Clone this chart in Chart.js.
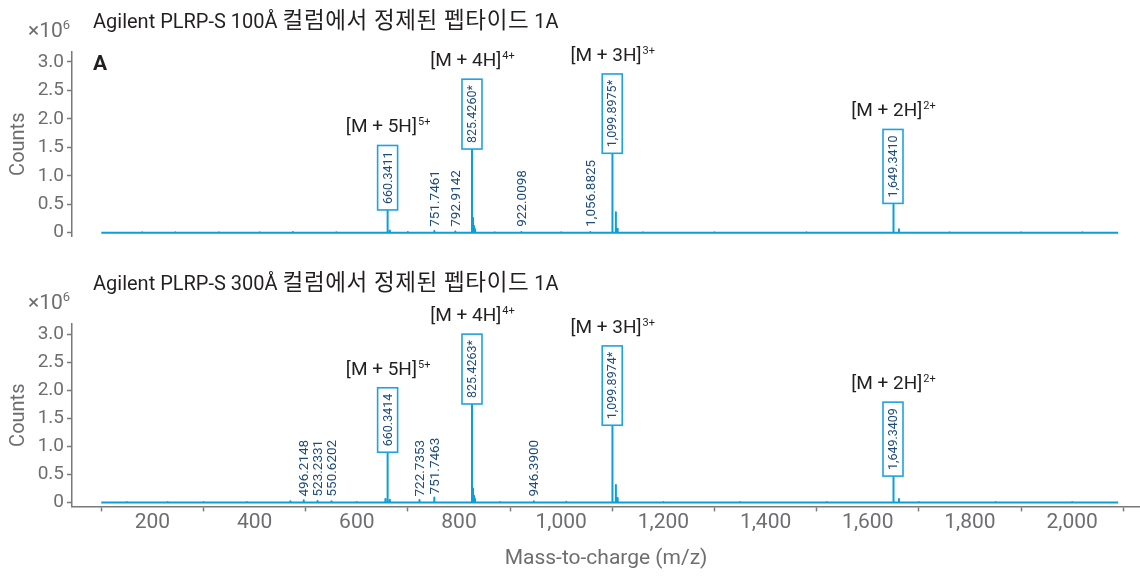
<!DOCTYPE html>
<html>
<head>
<meta charset="utf-8">
<script src="https://cdn.jsdelivr.net/npm/chart.js@4"></script>
<style>
  body { margin: 0; background: #fff; }
  #wrap { position: relative; width: 1140px; height: 576px; overflow: hidden; font-family: Roboto, "Noto Sans CJK KR", sans-serif; }
  #wrap canvas { position: absolute; left: 0; top: 0; }
  .title { position: absolute; left: 93px; font-size: 20px; line-height: 24px; color: #231f20; white-space: nowrap; }
  .title .ko { font-size: 22.5px; letter-spacing: 0.6px; }
  .exp { position: absolute; left: 28px; font-size: 21px; line-height: 22px; color: #6d6e71; white-space: nowrap; }
  .exp sup { font-size: 13px; vertical-align: 8px; line-height: 0; }
  .panel { position: absolute; left: 93px; top: 51px; font-size: 21px; font-weight: bold; line-height: 24px; color: #231f20; }
</style>
</head>
<body>
<div id="wrap">
  <div style="position:absolute;left:0;top:0;width:1140px;height:576px"><canvas id="topChart"></canvas></div>
  <div style="position:absolute;left:0;top:0;width:1140px;height:576px"><canvas id="bottomChart"></canvas></div>
  <div class="title" style="top:8px">Agilent PLRP-S 100Å <span class="ko">컬럼에서 정제된 펩타이드</span> 1A</div>
  <div class="exp" style="top:19px">×10<sup>6</sup></div>
  <div class="panel">A</div>
  <div class="title" style="top:270px">Agilent PLRP-S 300Å <span class="ko">컬럼에서 정제된 펩타이드</span> 1A</div>
  <div class="exp" style="top:291px">×10<sup>6</sup></div>
</div>
<script>
// m/z range of the recorded trace and of the axis
const traceStart = 100;
const traceEnd = 2090;
const xMin = 42.7;
const xMax = 2132.7;

// tick values
const xTickValues = [100, 200, 300, 400, 500, 600, 700, 800, 900, 1000, 1100,
  1200, 1300, 1400, 1500, 1600, 1700, 1800, 1900, 2000, 2100];
const yTickValues = [0, 0.5, 1.0, 1.5, 2.0, 2.5, 3.0];

// 100Å column peaks (counts in 10^6)
const topMz = [660.3411, 825.4260, 1099.8975, 1649.3410,
  751.7461, 792.9142, 922.0098, 1056.8825,
  664.7, 827.5, 829.5, 831.5, 1100.6, 1107.0, 1110.5, 1651.0, 1661.0];
const topCounts = [0.40, 1.47, 1.395, 0.515,
  0.03, 0.02, 0.012, 0.012,
  0.04, 0.26, 0.12, 0.06, 0.87, 0.36, 0.07, 0.08, 0.06];
// small baseline bumps
const topNoiseMz = [180, 245, 330, 410, 475, 560, 700, 870, 1000, 1160, 1300, 1480, 1760, 1900, 2020];
const topNoiseCounts = [0.01, 0.008, 0.01, 0.008, 0.012, 0.01, 0.012, 0.01, 0.01, 0.01, 0.008, 0.01, 0.01, 0.008, 0.01];

// 300Å column peaks
const bottomMz = [660.3414, 825.4263, 1099.8974, 1649.3409,
  496.2148, 523.2331, 550.6202, 722.7353, 751.7463, 946.3900,
  656.0, 664.7, 827.5, 829.5, 831.5, 1100.6, 1107.0, 1110.5, 1651.0, 1661.0];
const bottomCounts = [0.895, 1.755, 1.376, 0.47,
  0.04, 0.025, 0.02, 0.045, 0.09, 0.02,
  0.06, 0.05, 0.25, 0.12, 0.06, 0.87, 0.31, 0.08, 0.06, 0.06];
const bottomNoiseMz = [150, 230, 300, 385, 470, 600, 880, 1010, 1200, 1350, 1520, 1700, 1850, 2000];
const bottomNoiseCounts = [0.01, 0.008, 0.01, 0.01, 0.02, 0.01, 0.01, 0.012, 0.008, 0.008, 0.01, 0.01, 0.008, 0.01];

// labels
const topBoxed = [
  { mz: 660.3411, text: '660.3411', ion: '[M + 5H]', charge: '5+' },
  { mz: 825.4260, text: '825.4260*', ion: '[M + 4H]', charge: '4+' },
  { mz: 1099.8975, text: '1,099.8975*', ion: '[M + 3H]', charge: '3+' },
  { mz: 1649.3410, text: '1,649.3410', ion: '[M + 2H]', charge: '2+' }
];
const topSmall = [
  { mz: 751.7461, text: '751.7461' },
  { mz: 792.9142, text: '792.9142' },
  { mz: 922.0098, text: '922.0098' },
  { mz: 1056.8825, text: '1,056.8825' }
];
const bottomBoxed = [
  { mz: 660.3414, text: '660.3414', ion: '[M + 5H]', charge: '5+' },
  { mz: 825.4263, text: '825.4263*', ion: '[M + 4H]', charge: '4+' },
  { mz: 1099.8974, text: '1,099.8974*', ion: '[M + 3H]', charge: '3+' },
  { mz: 1649.3409, text: '1,649.3409', ion: '[M + 2H]', charge: '2+' }
];
const bottomSmall = [
  { mz: 496.2148, text: '496.2148' },
  { mz: 523.2331, text: '523.2331' },
  { mz: 550.6202, text: '550.6202' },
  { mz: 722.7353, text: '722.7353' },
  { mz: 751.7463, text: '751.7463' },
  { mz: 946.3900, text: '946.3900' }
];

const traceColor = '#0b9edb';
const boxColor = '#1ea3dc';
const labelColor = '#1d4c78';
const axisGrey = '#77797c';
const textGrey = '#6d6e71';
const FONT = 'Roboto, "Noto Sans CJK KR", sans-serif';

function stickData(mz, counts, noiseMz, noiseCounts) {
  const peaks = mz.map((m, i) => [m, counts[i]])
    .concat(noiseMz.map((m, i) => [m, noiseCounts[i]]))
    .sort((a, b) => a[0] - b[0]);
  const pts = [{ x: traceStart, y: 0 }];
  peaks.forEach(([m, c]) => {
    pts.push({ x: m, y: 0 }, { x: m, y: c }, { x: m, y: 0 });
  });
  pts.push({ x: traceEnd, y: 0 });
  return pts;
}

const peakLabels = {
  id: 'peakLabels',
  afterDatasetsDraw(chart) {
    const cfg = chart.options.plugins.peakLabels;
    const { ctx } = chart;
    const x = chart.scales.x, y = chart.scales.y;
    const zeroY = y.getPixelForValue(0);
    ctx.save();

    cfg.small.forEach(p => {
      const px = x.getPixelForValue(p.mz);
      const h = cfg.counts[cfg.mz.indexOf(p.mz)];
      const startY = Math.min(y.getPixelForValue(h) - 3, zeroY - 6);
      ctx.save();
      ctx.translate(px, startY);
      ctx.rotate(-Math.PI / 2);
      ctx.font = '13.5px ' + FONT;
      ctx.fillStyle = labelColor;
      ctx.textAlign = 'left';
      ctx.textBaseline = 'middle';
      ctx.fillText(p.text, 0, 1);
      ctx.restore();
    });

    cfg.boxed.forEach(p => {
      const px = x.getPixelForValue(p.mz);
      const h = cfg.counts[cfg.mz.indexOf(p.mz)];
      const peakTop = y.getPixelForValue(h);
      ctx.font = '12.5px ' + FONT;
      const tw = ctx.measureText(p.text).width;
      const boxH = tw + 12, boxW = 20;
      const bTop = peakTop - boxH;
      ctx.fillStyle = '#fff';
      ctx.fillRect(px - boxW / 2, bTop, boxW, boxH);
      ctx.strokeStyle = boxColor;
      ctx.lineWidth = 1.6;
      ctx.strokeRect(px - boxW / 2, bTop, boxW, boxH);
      ctx.save();
      ctx.translate(px, peakTop - boxH / 2);
      ctx.rotate(-Math.PI / 2);
      ctx.fillStyle = labelColor;
      ctx.textAlign = 'center';
      ctx.textBaseline = 'middle';
      ctx.fillText(p.text, 0, 1);
      ctx.restore();

      // ion label with superscript charge
      ctx.font = '19px ' + FONT;
      const w1 = ctx.measureText(p.ion).width;
      ctx.font = '11px ' + FONT;
      const w2 = ctx.measureText(p.charge).width;
      const sx = px - (w1 + w2) / 2;
      const base = bTop - 13;
      ctx.fillStyle = '#231f20';
      ctx.textAlign = 'left';
      ctx.textBaseline = 'alphabetic';
      ctx.font = '19px ' + FONT;
      ctx.fillText(p.ion, sx, base);
      ctx.font = '11px ' + FONT;
      ctx.fillText(p.charge, sx + w1 + 1, base - 7);
    });
    ctx.restore();
  }
};

function makeChart(id, mz, counts, noiseMz, noiseCounts, boxed, small, showX, padding) {
  return new Chart(document.getElementById(id), {
    type: 'line',
    data: {
      datasets: [{
        data: stickData(mz, counts, noiseMz, noiseCounts),
        borderColor: traceColor,
        borderWidth: 2,
        borderJoinStyle: 'round',
        pointRadius: 0,
        tension: 0,
        fill: false
      }]
    },
    options: {
      responsive: true,
      maintainAspectRatio: false,
      animation: false,
      layout: { padding: padding },
      plugins: {
        legend: { display: false },
        tooltip: { enabled: false },
        peakLabels: { mz: mz, counts: counts, boxed: boxed, small: small }
      },
      scales: {
        x: {
          type: 'linear',
          display: showX,
          min: xMin,
          max: xMax,
          afterBuildTicks: (scale) => { scale.ticks = xTickValues.map(v => ({ value: v })); },
          border: { color: axisGrey, width: 1.5 },
          grid: {
            drawOnChartArea: false,
            tickLength: 5,
            tickWidth: 1.5,
            tickColor: (c) => (c.tick && c.tick.value % 200 === 100) ? axisGrey : 'rgba(0,0,0,0)'
          },
          ticks: {
            autoSkip: false,
            maxRotation: 0,
            padding: 1,
            color: textGrey,
            font: { family: FONT, size: 21, lineHeight: 1 },
            callback: (v) => v % 200 === 0 ? v.toLocaleString('en-US') : ''
          },
          title: {
            display: true,
            text: 'Mass-to-charge (m/z)',
            color: textGrey,
            font: { family: FONT, size: 21, lineHeight: 1.2 },
            padding: { top: 12, bottom: 4.4 }
          }
        },
        y: {
          min: -0.07,
          max: 3.18,
          afterBuildTicks: (scale) => { scale.ticks = yTickValues.map(v => ({ value: v })); },
          afterFit: (scale) => { scale.width = 72; },
          border: { color: axisGrey, width: 1.5 },
          grid: { drawOnChartArea: false, tickLength: 5, tickWidth: 1.5, tickColor: axisGrey },
          ticks: {
            padding: 3,
            color: textGrey,
            font: { family: FONT, size: 19 },
            callback: (v) => v === 0 ? '0' : v.toFixed(1)
          },
          title: {
            display: true,
            text: 'Counts',
            color: textGrey,
            font: { family: FONT, size: 20 },
            padding: { top: 7, bottom: 0 }
          }
        }
      }
    },
    plugins: [peakLabels]
  });
}

makeChart('topChart', topMz, topCounts, topNoiseMz, topNoiseCounts, topBoxed, topSmall, false,
  { top: 51.7, bottom: 339.3, left: 0, right: 0 });
makeChart('bottomChart', bottomMz, bottomCounts, bottomNoiseMz, bottomNoiseCounts, bottomBoxed, bottomSmall, true,
  { top: 324, bottom: 0, left: 0, right: 0 });
</script>
</body>
</html>
